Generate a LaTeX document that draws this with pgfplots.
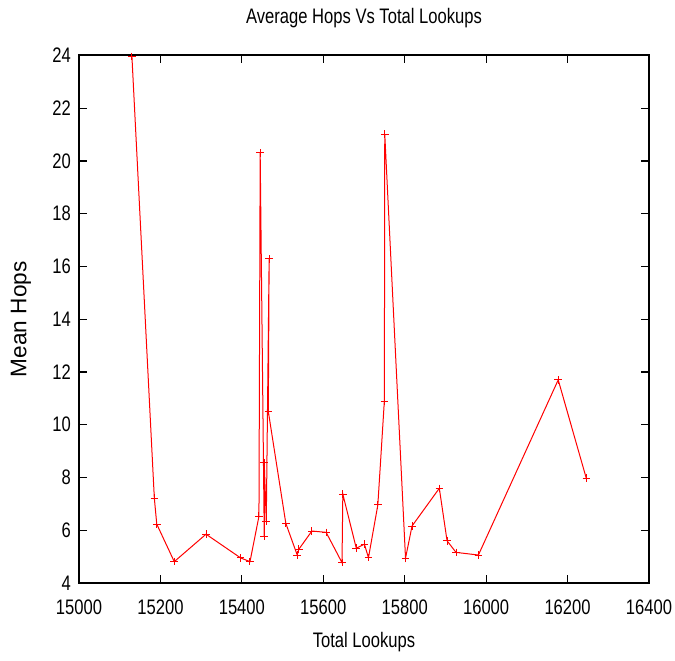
\documentclass[border=0pt]{standalone}
\usepackage{fontspec}
\setmainfont{Liberation Sans}[FakeStretch=0.79]
\newfontfamily\widesans{Liberation Sans}
\usepackage{pgfplots}
\pgfplotsset{compat=1.18}
\usetikzlibrary{calc}

\begin{document}
\begin{tikzpicture}
\begin{axis}[
    name=ax,
    scale only axis,
    width=285pt, height=263.75pt,
    xmin=15000, xmax=16400,
    ymin=4, ymax=24,
    xtick={15000,15200,...,16400},
    ytick={4,6,...,24},
    scaled x ticks=false,
    axis line style={line width=1pt},
    major tick style={line width=0.6pt, black},
    major tick length=4pt,
    tick align=inside,
    font=\fontsize{10.5pt}{12pt}\selectfont,
    /pgf/number format/assume math mode=true,
    /pgf/number format/set thousands separator={},
    xticklabel style={yshift=-5pt},
    yticklabel style={xshift=-0.5pt},
    every axis title shift=0pt,
    title={Average Hops Vs Total Lookups},
    title style={at={(axis description cs:0.5,1)}, anchor=center, yshift=18.75pt},
    xlabel={Total Lookups},
    xlabel style={at={(axis description cs:0.5,0)}, anchor=center, yshift=-29.5pt},
    ylabel={Mean Hops},
    ylabel style={at={(axis description cs:0,0.5)}, anchor=center, yshift=29pt,
        font=\widesans\fontsize{11.3pt}{13pt}\selectfont},
]
\addplot[red, line width=0.5pt, mark=+, mark size=1.9pt] coordinates {
    (15130,23.96) (15185,7.22) (15191,6.23) (15234,4.81) (15312,5.85)
    (15397,4.95) (15420,4.81) (15442,6.53) (15445,20.31) (15455,5.76)
    (15455,8.56) (15460,6.34) (15467,16.29) (15465,10.50) (15508,6.26)
    (15536,5.06) (15540,5.28) (15572,5.97) (15607,5.92) (15646,4.77)
    (15648,7.37) (15681,5.32) (15701,5.47) (15711,4.96) (15734,6.96)
    (15750,10.90) (15751,21.02) (15802,4.94) (15818,6.16) (15885,7.59)
    (15904,5.60) (15926,5.16) (15981,5.06) (16177,11.70) (16246,7.97)
};
\end{axis}
\pgfresetboundingbox
\path ($(ax.south west)+(-39.5pt,-39pt)$) rectangle ($(ax.north east)+(13pt,27.75pt)$);
\end{tikzpicture}
\end{document}
